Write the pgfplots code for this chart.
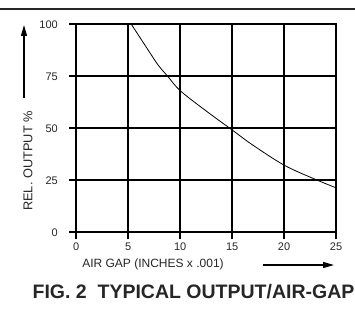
\documentclass[border=0pt]{standalone}
\usepackage{pgfplots}
\pgfplotsset{compat=1.18}
\usepackage{fontspec}
\setmainfont{Liberation Sans}
\usetikzlibrary{arrows.meta}
\begin{document}
\begin{tikzpicture}[x=1pt,y=1pt]
\path[use as bounding box] (0,0) rectangle (355,-310);
\draw[line width=2.6pt, black!85] (0,-9) -- (355,-9);
\begin{axis}[
  at={(76.3pt,-232.3pt)}, anchor=south west,
  scale only axis, width=259.7pt, height=208pt,
  xmin=0, xmax=25, ymin=0, ymax=100,
  xtick={0,5,10,15,20,25}, ytick={0,25,50,75,100},
  tick pos=left, tick align=outside, major tick length=7pt,
  grid=major,
  major grid style={black, line width=1.8pt},
  axis line style={black, line width=1.8pt},
  tick style={black, line width=1.8pt},
  /pgf/number format/assume math mode=true,
  tick label style={font=\fontsize{11}{13}\selectfont, text=black!85},
  yticklabel style={xshift=-8pt},
  clip=false,
]
\addplot[black, line width=0.8pt, smooth, tension=0.55] coordinates {
  (5.3,100) (6.92,87.6) (7.88,80.4) (8.8,75) (10,68.1) (12.4,58.7)
  (15,49.2) (17,41.9) (20,32.3) (22.8,25.9) (25,21.4)
};
\end{axis}
\node[font=\fontsize{12}{14}\selectfont, text=black!85, anchor=base] at (153,-267.5) {AIR GAP (INCHES x .001)};
\node[font=\fontsize{12.8}{14}\selectfont, text=black!85, rotate=90] at (28,-161) {REL. OUTPUT \%};
\draw[line width=1.3pt, -{Triangle[length=11pt,width=6pt]}] (24,-98) -- (24,-25);
\draw[line width=1.3pt, -{Triangle[length=11pt,width=6pt]}] (263,-265) -- (334,-265);
\node[font=\bfseries\fontsize{19.5}{22}\selectfont, text=black!85, anchor=base] at (193.5,-298.5) {FIG. 2\ \ TYPICAL OUTPUT/AIR-GAP};
\end{tikzpicture}
\end{document}
